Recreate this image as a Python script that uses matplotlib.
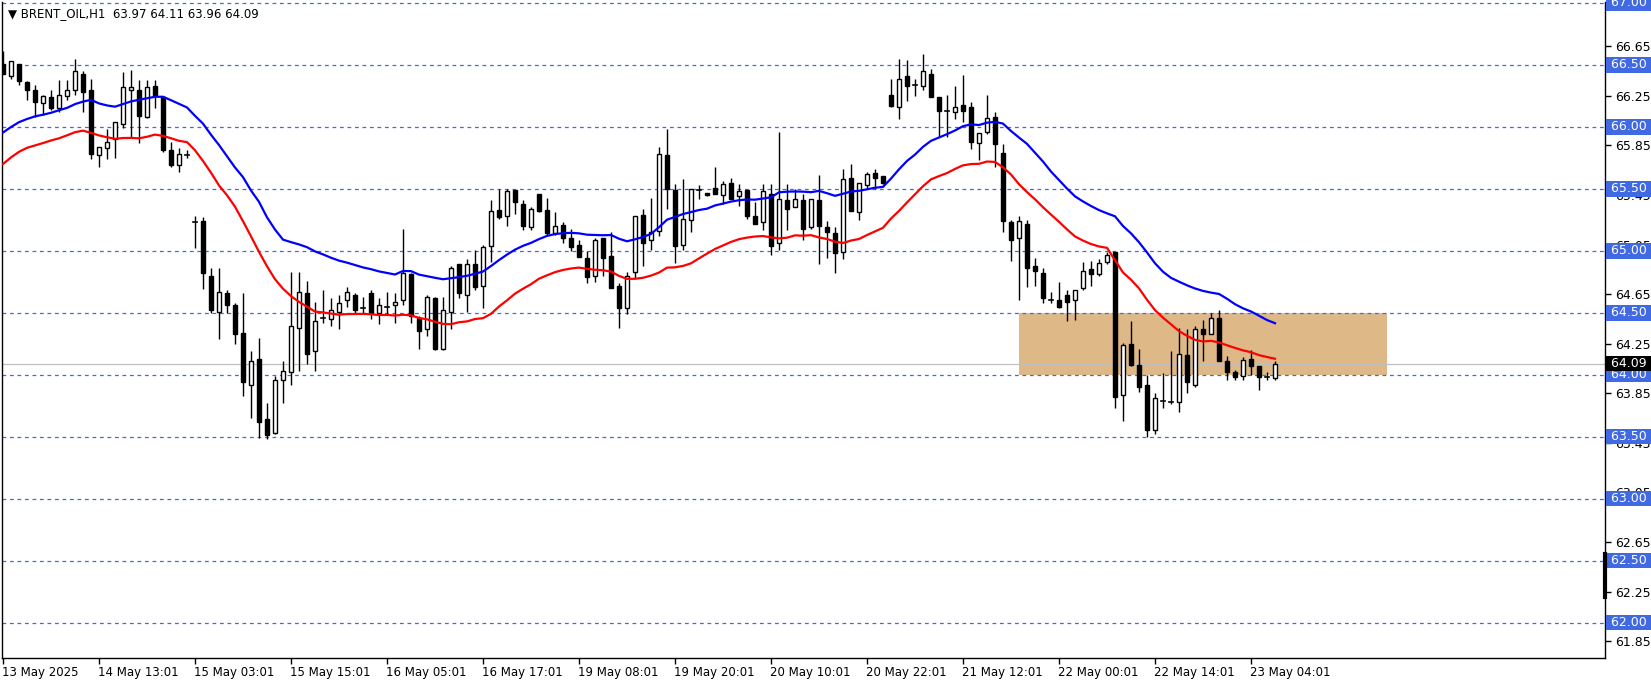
import matplotlib
matplotlib.use("Agg")
import matplotlib.pyplot as plt
import matplotlib.transforms as mtrans
import numpy as np

opens = [66.51,66.41,66.51,66.36,66.30,66.19,66.24,66.15,66.25,66.30,
66.43,66.30,65.77,65.83,65.90,66.02,66.30,66.30,66.08,66.33,
66.24,65.81,65.69,65.77,65.23,65.24,64.80,64.51,64.66,64.56,
64.34,63.92,64.13,63.64,63.53,63.96,64.02,64.38,64.66,64.19,
64.45,64.45,64.51,64.60,64.64,64.54,64.66,64.50,64.55,64.56,
64.60,64.81,64.46,64.37,64.62,64.21,64.51,64.89,64.64,64.89,
64.72,65.04,65.33,65.28,65.49,65.38,65.19,65.46,65.33,65.14,
65.21,65.10,65.05,64.94,64.80,65.10,64.96,64.72,64.54,64.83,
65.29,65.09,65.16,65.77,65.49,65.05,65.25,65.49,65.47,65.51,
65.45,65.55,65.44,65.49,65.28,65.23,65.46,65.06,65.41,65.35,
65.41,65.19,65.41,65.19,65.14,64.99,65.59,65.31,65.53,65.63,
65.60,66.26,66.16,66.41,66.34,66.33,66.43,66.24,66.13,66.12,
66.18,66.16,65.87,65.96,66.08,65.79,65.23,65.10,65.22,64.88,
64.82,64.60,64.60,64.64,64.60,64.70,64.85,64.81,64.91,64.99,
63.84,64.25,64.08,63.92,63.55,63.79,63.78,63.78,64.16,63.92,
64.37,64.33,64.46,64.11,64.02,63.99,64.13,64.07,63.99,63.97]
highs = [66.61,66.53,66.51,66.37,66.34,66.26,66.30,66.38,66.38,66.55,
66.45,66.39,65.84,65.98,66.04,66.44,66.46,66.38,66.38,66.38,
66.25,65.88,65.83,65.81,65.28,65.27,64.86,64.86,64.68,64.58,
64.66,64.19,64.30,63.77,63.99,64.11,64.83,64.83,64.76,64.59,
64.68,64.62,64.64,64.71,64.66,64.63,64.68,64.62,64.67,64.66,
65.18,64.82,64.47,64.64,64.63,64.63,64.88,64.89,64.93,65.01,
65.05,65.41,65.50,65.50,65.49,65.41,65.35,65.46,65.43,65.31,
65.23,65.18,65.09,65.00,65.10,65.10,65.15,64.74,64.83,65.28,
65.34,65.43,65.84,65.98,65.54,65.58,65.50,65.53,65.47,65.68,
65.56,65.59,65.54,65.49,65.39,65.54,65.54,65.96,65.54,65.50,
65.46,65.42,65.61,65.24,65.19,65.66,65.70,65.55,65.64,65.66,
65.60,66.39,66.55,66.54,66.39,66.59,66.47,66.24,66.26,66.33,
66.42,66.20,65.95,66.26,66.12,65.86,65.25,65.28,65.25,64.94,
64.86,64.67,64.75,64.68,64.68,64.91,64.92,64.93,64.99,64.99,
64.26,64.43,64.21,64.00,63.85,64.01,64.19,64.38,64.37,64.39,
64.44,64.50,64.52,64.15,64.04,64.14,64.20,64.07,64.02,64.11]
lows = [66.43,66.39,66.34,66.22,66.08,66.10,66.14,66.12,66.22,66.26,
66.12,65.74,65.68,65.74,65.75,65.99,65.92,65.87,66.07,66.15,
65.80,65.68,65.64,65.75,65.02,64.69,64.50,64.29,64.50,64.25,
63.83,63.65,63.49,63.48,63.52,63.77,63.92,64.03,64.09,64.03,
64.42,64.39,64.37,64.55,64.50,64.50,64.45,64.41,64.49,64.42,
64.56,64.42,64.21,64.31,64.20,64.20,64.37,64.62,64.51,64.68,
64.54,64.91,65.26,65.20,65.30,65.17,65.17,65.31,65.13,65.13,
65.06,65.00,64.95,64.74,64.75,64.80,64.70,64.38,64.49,64.78,
64.88,65.01,65.12,65.34,64.90,65.01,65.15,65.42,65.44,65.46,
65.38,65.42,65.36,65.26,65.22,65.17,64.97,65.01,65.17,65.35,
65.09,65.18,64.89,64.94,64.82,64.93,65.32,65.25,65.51,65.50,
65.54,66.16,66.06,66.21,66.25,66.30,66.24,65.92,65.92,66.06,
66.04,65.82,65.73,65.94,65.68,65.15,64.92,64.60,64.71,64.72,
64.58,64.58,64.54,64.43,64.44,64.68,64.72,64.80,64.89,63.73,
63.63,64.07,63.86,63.50,63.52,63.73,63.76,63.70,63.85,63.90,
64.11,64.33,64.11,63.96,63.96,63.96,64.00,63.88,63.96,63.96]
closes = [66.43,66.53,66.37,66.30,66.20,66.25,66.15,66.26,66.30,66.45,
66.28,65.78,65.84,65.88,66.04,66.32,66.32,66.09,66.32,66.25,
65.81,65.69,65.78,65.77,65.23,64.82,64.52,64.67,64.56,64.33,
63.94,64.11,63.62,63.51,63.96,64.03,64.39,64.67,64.17,64.43,
64.46,64.52,64.58,64.67,64.52,64.54,64.50,64.56,64.55,64.59,
64.82,64.47,64.35,64.63,64.21,64.52,64.86,64.66,64.89,64.71,
65.03,65.32,65.27,65.48,65.39,65.20,65.34,65.32,65.14,65.20,
65.10,65.03,64.95,64.79,65.09,64.94,64.70,64.54,64.80,65.28,
65.06,65.15,65.78,65.50,65.04,65.26,65.50,65.49,65.45,65.46,
65.54,65.42,65.48,65.28,65.22,65.48,65.04,65.42,65.34,65.42,
65.18,65.42,65.20,65.15,64.98,65.58,65.32,65.55,65.62,65.59,
65.55,66.17,66.39,66.33,66.34,66.45,66.24,66.13,66.13,66.16,
66.13,65.88,65.95,66.07,65.86,65.24,65.09,65.24,64.86,64.84,
64.62,64.60,64.55,64.59,64.68,64.84,64.81,64.90,64.97,63.82,
64.24,64.08,63.90,63.55,63.81,63.79,63.78,64.17,63.94,64.37,
64.33,64.46,64.11,64.02,63.98,64.12,64.07,63.98,63.98,64.09]

# moving averages (seed values = levels read at the first bar)
ma_high_seed = 65.90
ma_low_seed = 65.64
ma_span = 25

x_labels = ["13 May 2025","14 May 13:01","15 May 03:01","15 May 15:01","16 May 05:01",
            "16 May 17:01","19 May 08:01","19 May 20:01","20 May 10:01","20 May 22:01",
            "21 May 12:01","22 May 00:01","22 May 14:01","23 May 04:01"]
label_every = 12
level_lines = [67.0,66.5,66.0,65.5,65.0,64.5,64.0,63.5,63.0,62.5,62.0]
plain_ticks = [66.65,66.25,65.85,65.45,65.05,64.65,64.25,63.85,63.45,63.05,62.65,62.25,61.85]
last_price = 64.09
zone_low, zone_high = 64.0, 64.5
zone_start, zone_end = 127, 173

def ema(vals, seed, span):
    a = 2.0/(span+1)
    out = []
    v = seed
    for x in vals:
        v = v + a*(x - v)
        out.append(v)
    return out

W, H = 1651, 682
fig = plt.figure(figsize=(W/100, H/100), dpi=100)
fig.patch.set_facecolor("white")
left, right, top, bottom = 2, 1605, 2, 658
ax = fig.add_axes([left/W, 1-bottom/H, (right-left)/W, (bottom-top)/H])
ax.set_facecolor("white")

n = len(closes)
idx = np.arange(n)
ax.set_xlim(-0.125, 200.25)
ax.set_ylim(61.714, 67.008)

ax.fill_between([zone_start, zone_end], zone_low, zone_high, color="#DEB887", lw=0, zorder=1)

for lv in level_lines:
    ax.axhline(lv, color="#4169E1", lw=0.9, ls=(0, (3, 3)), zorder=2)
ax.axhline(last_price, color="#C0C0C0", lw=0.9, zorder=2)

bw = 0.6
for i in idx:
    o, h, l, c = opens[i], highs[i], lows[i], closes[i]
    ax.plot([i, i], [l, h], color="black", lw=1.0, zorder=4, solid_capstyle="butt")
    lo_b, hi_b = min(o, c), max(o, c)
    if hi_b - lo_b < 0.012:
        ax.plot([i-bw/2, i+bw/2], [c, c], color="black", lw=1.2, zorder=5)
    else:
        fc = "white" if c > o else "black"
        ax.add_patch(plt.Rectangle((i-bw/2, lo_b), bw, hi_b-lo_b, facecolor=fc,
                                   edgecolor="black", lw=1.0, zorder=5))

ma_h = ema(highs, ma_high_seed, ma_span)
ma_l = ema(lows, ma_low_seed, ma_span)
ax.plot(idx, ma_h, color="#0000FF", lw=1.6, zorder=6)
ax.plot(idx, ma_l, color="#FF0000", lw=1.6, zorder=6)

for s in ["top", "left", "right", "bottom"]:
    ax.spines[s].set_color("black")
    ax.spines[s].set_linewidth(1.0)
ax.spines["top"].set_visible(False)
ax.yaxis.tick_right()
ax.set_yticks(plain_ticks)
ax.set_yticklabels([f"{v:.2f}" for v in plain_ticks], fontsize=9, color="black")
ax.tick_params(axis="y", length=4, width=1, pad=3, direction="out")
ticks_x = [k*label_every for k in range(len(x_labels))]
ax.set_xticks(ticks_x)
ax.set_xticklabels(x_labels, fontsize=8.5, ha="left")
ax.tick_params(axis="x", length=4, width=1, pad=2, direction="out")
for t in ax.get_xticklabels():
    t.set_transform(t.get_transform() + mtrans.ScaledTranslation(-1/100, 0, fig.dpi_scale_trans))

trans = mtrans.blended_transform_factory(ax.transAxes, ax.transData)
for lv in level_lines:
    ax.text(1.0015, lv, f" {lv:.2f} ", transform=trans, fontsize=9, color="white",
            va="center", ha="left", zorder=10, clip_on=False,
            bbox=dict(boxstyle="square,pad=0.1", fc="#4169E1", ec="none"))
ax.text(1.0015, last_price, f" {last_price:.2f} ", transform=trans, fontsize=9, color="white",
        va="center", ha="left", zorder=11, clip_on=False,
        bbox=dict(boxstyle="square,pad=0.1", fc="black", ec="none"))

ax.plot([1.0, 1.0], [62.21, 62.55], transform=trans, color="black", lw=3, clip_on=False, zorder=12)

ax.text(0.004, 0.993, "▼ BRENT_OIL,H1  63.97 64.11 63.96 64.09", transform=ax.transAxes,
        fontsize=8.5, va="top", ha="left", color="black", zorder=12)

fig.savefig("out.png", dpi=100, facecolor="white")
